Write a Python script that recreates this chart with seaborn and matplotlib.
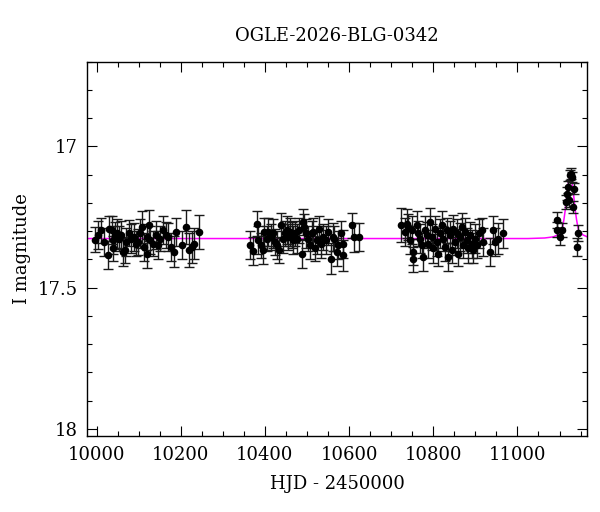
import numpy as np
import pandas as pd
import matplotlib
matplotlib.use('Agg')
import matplotlib.pyplot as plt
from matplotlib.ticker import MultipleLocator, FuncFormatter
import seaborn as sns

# Season 1
t1 = [9996, 10004, 10010, 10017, 10028, 10030, 10036, 10038, 10039, 10044,
      10049, 10054, 10059, 10063, 10067, 10071, 10078, 10083, 10089, 10093,
      10099, 10103, 10109, 10112, 10119, 10121, 10125, 10128, 10135, 10141,
      10146, 10150, 10158, 10165, 10170, 10178, 10184, 10189, 10202, 10212,
      10220, 10226, 10231, 10244]
m1 = [17.330, 17.314, 17.297, 17.338, 17.385, 17.291, 17.297, 17.361, 17.332, 17.314,
      17.308, 17.326, 17.314, 17.373, 17.367, 17.338, 17.306, 17.326, 17.320, 17.344,
      17.338, 17.308, 17.285, 17.356, 17.320, 17.379, 17.279, 17.332, 17.344, 17.314,
      17.350, 17.326, 17.297, 17.314, 17.320, 17.356, 17.373, 17.303, 17.350, 17.285,
      17.367, 17.356, 17.344, 17.303]
e1 = [0.045, 0.05, 0.045, 0.05, 0.05, 0.045, 0.05, 0.045, 0.05, 0.045,
      0.05, 0.045, 0.05, 0.05, 0.045, 0.05, 0.045, 0.05, 0.05, 0.045,
      0.045, 0.05, 0.055, 0.05, 0.045, 0.05, 0.055, 0.05, 0.045, 0.05,
      0.05, 0.045, 0.05, 0.045, 0.05, 0.05, 0.055, 0.05, 0.05, 0.06,
      0.06, 0.055, 0.055, 0.06]

# Season 2
t2 = [10364.5, 10370.9, 10380.4, 10384.2, 10389.9, 10394.7, 10397.8, 10404.2, 10408, 10413.7,
      10419.9, 10423.9, 10429.4, 10434.1, 10437.5, 10442.2, 10447.7, 10451.7, 10455.5, 10459.6,
      10463.6, 10467.4, 10471.5, 10476.9, 10481.7, 10487.4, 10491.2, 10493.6, 10497.6, 10503.1,
      10507.1, 10511.2, 10515, 10519, 10524.5, 10529.2, 10532.6, 10537.3, 10545.2, 10550.6,
      10556.3, 10561.1, 10564.9, 10570.6, 10574.4, 10580.1, 10584.9, 10586.3, 10606.3, 10611.7,
      10624.3]
m2 = [17.350, 17.370, 17.273, 17.332, 17.350, 17.367, 17.303, 17.326, 17.303, 17.320,
      17.308, 17.338, 17.350, 17.367, 17.279, 17.326, 17.308, 17.297, 17.320, 17.303,
      17.314, 17.332, 17.308, 17.326, 17.297, 17.379, 17.267, 17.285, 17.308, 17.326,
      17.350, 17.308, 17.303, 17.361, 17.332, 17.291, 17.344, 17.320, 17.332, 17.303,
      17.397, 17.320, 17.326, 17.373, 17.350, 17.308, 17.344, 17.385, 17.279, 17.322,
      17.320]
e2 = [0.05, 0.05, 0.045, 0.05, 0.045, 0.05, 0.05, 0.045, 0.05, 0.045,
      0.05, 0.045, 0.05, 0.045, 0.045, 0.05, 0.045, 0.05, 0.045, 0.05,
      0.045, 0.05, 0.045, 0.05, 0.045, 0.05, 0.045, 0.045, 0.05, 0.045,
      0.05, 0.045, 0.05, 0.045, 0.05, 0.045, 0.05, 0.045, 0.05, 0.045,
      0.055, 0.05, 0.045, 0.05, 0.05, 0.045, 0.05, 0.055, 0.045, 0.05,
      0.05]

# Season 3
t3 = [10722.8, 10733, 10737, 10740.8, 10744.9, 10748.9, 10752.7, 10752.7, 10760.8, 10764.6,
      10768.7, 10772.7, 10776.5, 10780.6, 10784.6, 10788.4, 10792.4, 10796.5, 10800.3, 10804.3,
      10808.4, 10812.2, 10816.2, 10820.3, 10824.1, 10828.1, 10832.1, 10836, 10840, 10844,
      10847.8, 10851.9, 10855.9, 10859.7, 10863.8, 10867.8, 10871.6, 10875.6, 10879.7, 10883.5,
      10887.5, 10891.6, 10895.4, 10899.4, 10903.5, 10909.6, 10915.4, 10919.2, 10935.1, 10942.9,
      10947, 10954.8, 10966.7]
m3 = [17.279, 17.303, 17.273, 17.285, 17.332, 17.297, 17.373, 17.400, 17.279, 17.308,
      17.326, 17.350, 17.391, 17.297, 17.314, 17.344, 17.267, 17.320, 17.361, 17.291,
      17.338, 17.379, 17.308, 17.279, 17.326, 17.356, 17.297, 17.391, 17.314, 17.367,
      17.291, 17.338, 17.308, 17.379, 17.320, 17.285, 17.350, 17.303, 17.332, 17.361,
      17.314, 17.344, 17.367, 17.326, 17.350, 17.308, 17.297, 17.338, 17.373, 17.297,
      17.338, 17.326, 17.308]
e3 = [0.06, 0.05, 0.05, 0.045, 0.05, 0.05, 0.045, 0.045, 0.05, 0.045,
      0.05, 0.045, 0.05, 0.05, 0.045, 0.05, 0.05, 0.045, 0.05, 0.045,
      0.05, 0.045, 0.05, 0.05, 0.045, 0.05, 0.045, 0.05, 0.05, 0.045,
      0.05, 0.045, 0.05, 0.045, 0.05, 0.05, 0.045, 0.05, 0.045, 0.05,
      0.045, 0.05, 0.045, 0.05, 0.045, 0.05, 0.045, 0.05, 0.05, 0.05,
      0.05, 0.055, 0.05]

# Season 4 (event)
t4 = [11093.7, 11095.1, 11101.5, 11105.6, 11115.8, 11117.5, 11121.3, 11123.6, 11125.3, 11127,
      11129.4, 11133.2, 11134.8, 11142.7, 11145.1]
m4 = [17.294, 17.261, 17.320, 17.297, 17.197, 17.167, 17.144, 17.191, 17.102, 17.096,
      17.108, 17.214, 17.149, 17.356, 17.306]
e4 = [0.025, 0.028, 0.03, 0.025, 0.025, 0.022, 0.02, 0.022, 0.018, 0.018,
      0.018, 0.022, 0.02, 0.032, 0.028]

# Model curve
model_t = [9978, 10600, 11025, 11065, 11085.5, 11095.5, 11100.5, 11105.5, 11108, 11110.5,
           11113.5, 11115.5, 11117.5, 11119.5, 11121.5, 11123.5, 11125.5, 11127.5, 11129.5,
           11131.5, 11133.5, 11135.5, 11137.5, 11140.5, 11143, 11145.5, 11150.5, 11155.5, 11166]
model_m = [17.326, 17.326, 17.326, 17.324, 17.320, 17.313, 17.305, 17.297, 17.280, 17.259,
           17.227, 17.200, 17.172, 17.145, 17.125, 17.114, 17.110, 17.114, 17.125,
           17.145, 17.172, 17.200, 17.227, 17.259, 17.280, 17.297, 17.305, 17.313, 17.320]

dados = pd.DataFrame({'hjd': t1 + t2 + t3 + t4,
                      'mag': m1 + m2 + m3 + m4,
                      'err': e1 + e2 + e3 + e4})
modelo = pd.DataFrame({'hjd': model_t, 'mag': model_m})

sns.set_style('ticks')
plt.rcParams['font.family'] = ['DejaVu Serif']
plt.rcParams['text.color'] = 'black'
plt.rcParams['axes.labelcolor'] = 'black'

fig = plt.figure(figsize=(6, 5.12), dpi=100)
ax = fig.add_axes([0.1455, 0.1484, 0.8333, 0.7311])

sns.lineplot(data=modelo, x='hjd', y='mag', color='#ff00ff', linewidth=1.1, ax=ax, zorder=1)
ax.errorbar(dados['hjd'], dados['mag'], yerr=dados['err'], fmt='none',
            ecolor='#1a1a1a', elinewidth=1.0, capsize=3.5, capthick=1.0, zorder=2)
sns.scatterplot(data=dados, x='hjd', y='mag', color='black', s=30, edgecolor='black',
                linewidth=0, ax=ax, zorder=3)

ax.set_xlim(9978, 11166)
ax.set_ylim(18.025, 16.7)

ax.xaxis.set_major_locator(MultipleLocator(200))
ax.xaxis.set_minor_locator(MultipleLocator(50))
ax.yaxis.set_major_locator(MultipleLocator(0.5))
ax.yaxis.set_minor_locator(MultipleLocator(0.1))
ax.yaxis.set_major_formatter(FuncFormatter(lambda v, p: f'{v:g}'))
ax.tick_params(which='both', direction='in', top=True, right=True, width=0.8, colors='black',
               labelsize=13, pad=7)
ax.tick_params(which='major', length=7.5)
ax.tick_params(which='minor', length=3.8)
for s in ax.spines.values():
    s.set_linewidth(1.0)
    s.set_color('black')

ax.set_title('OGLE-2026-BLG-0342', fontsize=13, pad=15, color='black')
ax.set_xlabel('HJD - 2450000', fontsize=13, labelpad=8)
ax.set_ylabel('I magnitude', fontsize=13, labelpad=5)

fig.savefig('out.png', dpi=100)
